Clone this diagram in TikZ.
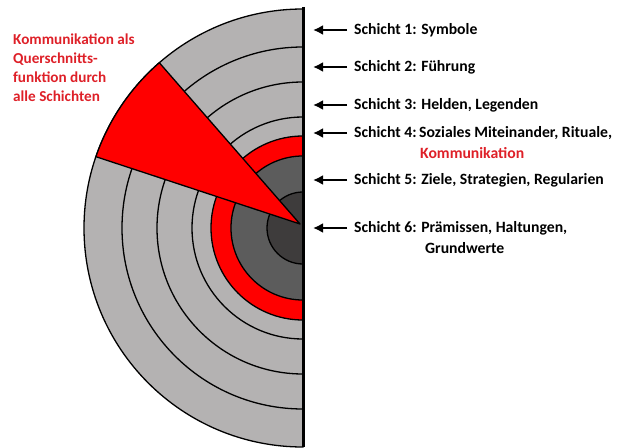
\documentclass[tikz,border=0pt]{standalone}
\usepackage{fontspec}
\setmainfont{Carlito}
\usepackage{tikz}
\usetikzlibrary{arrows.meta, positioning, calc}
\definecolor{ringgray}{RGB}{180,178,178}
\definecolor{midgray}{RGB}{92,92,92}
\definecolor{coregray}{RGB}{62,60,60}
\definecolor{komred}{RGB}{222,32,40}

\begin{document}
\begin{tikzpicture}[x=1pt, y=1pt,
    ring/.style={draw=black, line width=1.3pt},
    pointer/.style={-{Latex[length=10pt,width=10pt]}, line width=2.6pt},
    layer/.style={anchor=west, inner xsep=7pt, inner ysep=1pt, font=\bfseries\fontsize{15.7}{19}\selectfont}]
    \useasboundingbox (-303,-219) rectangle (317,228);
    % Half rings, outside in
    \filldraw[ring, fill=ringgray] (0,219) arc (90:270:219) -- cycle;
    \foreach \r in {181,146,111}
        \draw[ring] (0,\r) arc (90:270:\r);
    \filldraw[ring, fill=red] (0,92) arc (90:270:92) -- cycle;
    \filldraw[ring, fill=midgray] (0,72) arc (90:270:72) -- cycle;
    \filldraw[ring, fill=coregray] (0,36) arc (90:270:36) -- cycle;
    % Wedge through all layers
    \filldraw[ring, fill=red, line join=round] (-3,4) -- (131:219) arc (131:161:219) -- cycle;
    % Axis
    \draw[line width=3pt] (0,221) -- (0,-219);
    % Layer labels
    \node[layer] (s1) at (44,198) {Schicht 1: Symbole};
    \node[layer] (s2) at (44,161) {Schicht 2: Führung};
    \node[layer] (s3) at (44,123) {Schicht 3: Helden, Legenden};
    \node[layer] (s4) at (44,95) {Schicht 4:\,Soziales Miteinander, Rituale,};
    \node[layer, text=komred] (k4) at (110,75) {Kommunikation};
    \node[layer] (s5) at (44,48) {Schicht 5: Ziele, Strategien, Regularien};
    \node[layer] (s6) at (44,0) {Schicht 6: Prämissen, Haltungen,};
    \node[layer] (g6) at (115,-20) {Grundwerte};
    \foreach \i in {1,...,6} {
        \coordinate (p\i) at (10,0 |- s\i.west);
        \draw[pointer] (s\i.west) -- (p\i);
    }
    % Cross-section note
    \node[anchor=north west, align=left, inner sep=0pt, text=komred,
          font=\bfseries\fontsize{15.2}{19}\selectfont] (note) at (-290,194)
        {Kommunikation als\\Querschnitts-\\funktion durch\\alle Schichten};
\end{tikzpicture}
\end{document}
